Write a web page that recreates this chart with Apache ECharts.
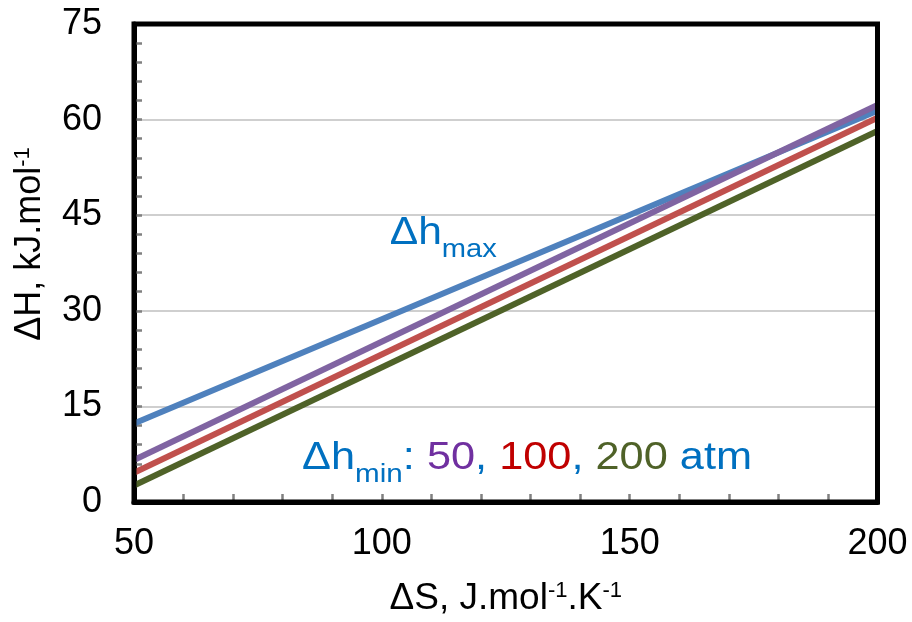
<!DOCTYPE html>
<html><head><meta charset="utf-8">
<script src="https://cdn.jsdelivr.net/npm/echarts@6/dist/echarts.min.js"></script>
<style>html,body{margin:0;padding:0;background:#fff}#c{width:912px;height:622px}</style>
</head><body><div id="c"></div>
<script>
// Data
const xValues = [50, 200];
const dhMax = [12.3, 61.4];        // Δh_max
const dhMin50 = [6.6, 62.3];       // Δh_min 50 atm
const dhMin100 = [4.6, 60.3];      // Δh_min 100 atm
const dhMin200 = [2.6, 58.2];      // Δh_min 200 atm
const xTicks = [50, 100, 150, 200];
const yTicks = [0, 15, 30, 45, 60, 75];

const FONT = 'Liberation Sans, Arial, sans-serif';
const chart = echarts.init(document.getElementById('c'), null, {renderer: 'canvas'});

function pairs(ys){ return xValues.map((x,i)=>[x, ys[i]]); }
function line(name, ys, color){
  return {name, type:'line', data:pairs(ys), symbol:'none', lineStyle:{color, width:6, cap:'butt'}, itemStyle:{color}, z:3, animation:false};
}
const supRich = {
  m:{fontSize:37, lineHeight:37, verticalAlign:'top', color:'#000', fontFamily:FONT},
  s:{fontSize:22, lineHeight:22, verticalAlign:'top', color:'#000', fontFamily:FONT}
};

chart.setOption({
  animation:false,
  backgroundColor:'#fff',
  grid:{left:134, top:24, right:34.5, bottom:116, show:true, borderColor:'#000', borderWidth:5, backgroundColor:'transparent', z:4},
  xAxis:{
    type:'value', min:50, max:200, interval:50,
    axisLine:{show:true, lineStyle:{color:'#000', width:5}},
    axisTick:{show:true, inside:true, length:8, lineStyle:{color:'#808080', width:2.5}},
    minorTick:{show:true, splitNumber:5, length:8, lineStyle:{color:'#808080', width:2.5}},
    splitLine:{show:false},
    axisLabel:{fontSize:36, color:'#000', fontFamily:FONT, margin:24,
      formatter:v=>xTicks.includes(v)?String(v):''},
    name:'{m|ΔS, J.mol}{s|-1}{m|.K}{s|-1}', nameLocation:'middle', nameGap:78,
    nameTextStyle:{rich:supRich}
  },
  yAxis:{
    type:'value', min:0, max:75, interval:15,
    axisLine:{show:true, lineStyle:{color:'#000', width:5}},
    axisTick:{show:true, inside:true, length:8, lineStyle:{color:'#808080', width:2.5}},
    minorTick:{show:true, splitNumber:5, length:8, lineStyle:{color:'#808080', width:2.5}},
    splitLine:{show:true, lineStyle:{color:'#BFBFBF', width:1.5}},
    axisLabel:{fontSize:36, color:'#000', fontFamily:FONT, margin:32,
      formatter:v=>yTicks.includes(v)?String(v):''}
  },
  series:[
    line('Δh max', dhMax, '#4F81BD'),
    line('Δh min 200 atm', dhMin200, '#4F6228'),
    line('Δh min 100 atm', dhMin100, '#C0504D'),
    line('Δh min 50 atm', dhMin50, '#8064A2')
  ]
});

// Annotations anchored in data coordinates
const pMax = chart.convertToPixel({gridIndex:0}, [101.6, 40.1]);
const pMin = chart.convertToPixel({gridIndex:0}, [83.9, 4.8]);
const blue = '#0070C0';
const mk = (fill)=>({fontSize:38, lineHeight:38, verticalAlign:'top', fill, fontFamily:FONT});
const sub = {fontSize:26, lineHeight:26, padding:[22,0,0,0], verticalAlign:'top', fill:blue, fontFamily:FONT};
chart.setOption({graphic:[
  {type:'text', x:pMax[0], y:pMax[1]-32, scaleX:1.12, z:10, style:{
    text:'{m|Δh}{s|max}', align:'left', verticalAlign:'top',
    rich:{m:mk(blue), s:sub}
  }},
  {type:'text', x:pMin[0], y:pMin[1]-32, scaleX:1.14, z:10, style:{
    text:'{m|Δh}{s|min}{m|: }{p|50}{m|, }{r|100}{m|, }{g|200}{m| atm}', align:'left', verticalAlign:'top',
    rich:{m:mk(blue), s:sub, p:mk('#7030A0'), r:mk('#C00000'), g:mk('#4F6228')}
  }},
  {type:'text', x:30, y:244, rotation:Math.PI/2, z:10, style:{
    text:'{m|ΔH, kJ.mol}{s|-1}', align:'center', verticalAlign:'middle',
    rich:{m:{fontSize:36, lineHeight:36, verticalAlign:'top', fill:'#000', fontFamily:FONT},
          s:{fontSize:22, lineHeight:22, verticalAlign:'top', fill:'#000', fontFamily:FONT}}
  }}
]});
</script>
</body></html>
